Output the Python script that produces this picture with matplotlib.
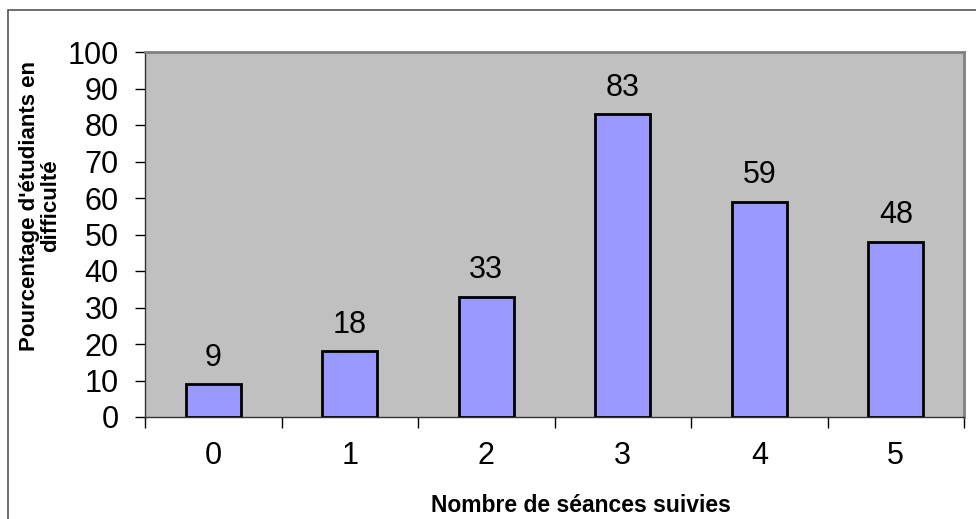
import matplotlib
matplotlib.use('Agg')
import matplotlib.pyplot as plt
from matplotlib.patches import Rectangle

# data
seances = ['0', '1', '2', '3', '4', '5']
pourcentages = [9, 18, 33, 83, 59, 48]
y_ticks = [0, 10, 20, 30, 40, 50, 60, 70, 80, 90, 100]

plt.rcParams['font.family'] = ['Liberation Sans', 'DejaVu Sans']

W, H = 976, 519
fig = plt.figure(figsize=(W / 100, H / 100), dpi=100)

# outer chart frame (cut off on right and bottom like the reference)
fig.patches.append(Rectangle((8 / W, -0.1), 1.2, 1.1 - 10 / H,
                             transform=fig.transFigure, fill=False,
                             edgecolor='#555555', linewidth=1.2))

ax = fig.add_axes([145 / W, (H - 417) / H, (964 - 145) / W, (417 - 52) / H])
ax.set_facecolor('#C0C0C0')

x = list(range(len(seances)))
bars = ax.bar(x, pourcentages, width=0.4, color='#9999FF',
              edgecolor='black', linewidth=2, zorder=3)

for xi, v in zip(x, pourcentages):
    ax.annotate(str(v), (xi, v), xytext=(0, 19), textcoords='offset points',
                ha='center', va='center', fontsize=22)

ax.set_xlim(-0.5, len(seances) - 0.5)
ax.set_ylim(0, 100)
ax.set_yticks(y_ticks)
ax.tick_params(axis='y', labelsize=22, length=7, width=1, direction='out', pad=12)

ax.set_xticks([i + 0.5 for i in range(-1, len(seances))])
ax.set_xticklabels([])
ax.set_xticks(x, minor=True)
ax.set_xticklabels(seances, minor=True)
ax.tick_params(axis='x', which='major', length=8, width=1, direction='out')
ax.tick_params(axis='x', which='minor', length=0, labelsize=22, pad=17)

for s in ['top', 'right']:
    ax.spines[s].set_color('#808080')
    ax.spines[s].set_linewidth(2)
for s in ['left', 'bottom']:
    ax.spines[s].set_color('#333333')
    ax.spines[s].set_linewidth(1)

fig.text(581 / W, 1 - 506 / H, 'Nombre de séances suivies', ha='center',
         va='center', fontsize=16.5, fontweight='bold')
fig.text(40 / W, 1 - 206 / H, "Pourcentage d'étudiants en\ndifficulté",
         ha='center', va='center', rotation=90, fontsize=16,
         fontweight='bold', linespacing=1.0)

fig.savefig('out.png', dpi=100)
